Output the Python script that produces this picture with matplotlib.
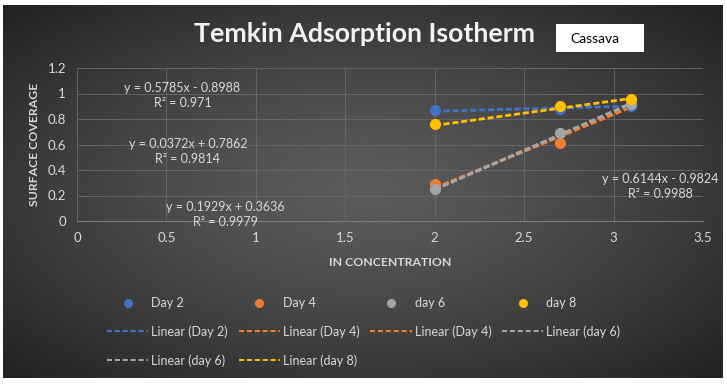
import numpy as np
import matplotlib
matplotlib.use('Agg')
import matplotlib.pyplot as plt
from matplotlib.lines import Line2D
from matplotlib.patches import Rectangle

plt.rcParams['font.family'] = ['Lato', 'DejaVu Sans']

# data
x_vals = [2.0, 2.7, 3.1]
series_names = ['Day 2', 'Day 4', 'day 6', 'day 8']
series_y = [
    [0.87, 0.88, 0.90],   # Day 2
    [0.29, 0.61, 0.93],   # Day 4
    [0.25, 0.69, 0.92],   # day 6
    [0.76, 0.90, 0.96],   # day 8
]
colors = ['#4472C4', '#ED7D31', '#A5A5A5', '#FFC000']

# trendlines as they appear in the legend (series index, slope, intercept)
trend_series = [0, 1, 1, 2, 2, 3]
trend_names = ['Linear (Day 2)', 'Linear (Day 4)', 'Linear (Day 4)',
               'Linear (day 6)', 'Linear (day 6)', 'Linear (day 8)']
trend_slope = [0.0372, 0.5785, 0.5785, 0.6144, 0.6144, 0.1929]
trend_icpt = [0.7862, -0.8988, -0.8988, -0.9824, -0.9824, 0.3636]

# equation labels shown on the chart
eq_text = ['y = 0.5785x - 0.8988\nR² = 0.971',
           'y = 0.0372x + 0.7862\nR² = 0.9814',
           'y = 0.1929x + 0.3636\nR² = 0.9979',
           'y = 0.6144x - 0.9824\nR² = 0.9988']
eq_pos = [(0.59, 0.985), (0.62, 0.545), (0.83, 0.05), (3.26, 0.27)]

txt_col = '#d9d9d9'

fig = plt.figure(figsize=(7.27, 3.84), dpi=100)
fig.patch.set_facecolor('white')

# radial gradient background
bg = fig.add_axes([3/727, 6/384, 720/727, 373/384], zorder=0)
gx, gy = np.meshgrid(np.linspace(-1, 1, 400), np.linspace(-1, 1, 220))
r = np.sqrt(gx**2 + gy**2) / np.sqrt(2)
shade = 0.36 - 0.23 * np.clip(r, 0, 1) ** 1.3
bg.imshow(np.dstack([shade, shade, shade]), aspect='auto', extent=[0, 1, 0, 1],
          interpolation='bicubic')
bg.set_axis_off()

ax = fig.add_axes([77/727, 1 - 221/384, 626/727, 153/384], zorder=1)
ax.patch.set_alpha(0)

xs = np.array([min(x_vals), max(x_vals)])
for k, si in enumerate(trend_series):
    ax.plot(xs, trend_slope[k] * xs + trend_icpt[k], color=colors[si],
            ls=(0, (2.2, 1.0)), lw=2, zorder=2)

for i, name in enumerate(series_names):
    ax.plot(x_vals, series_y[i], 'o', color=colors[i], ms=7, zorder=3)

for t, (px, py) in zip(eq_text, eq_pos):
    ax.text(px, py, t, color=txt_col, fontsize=9, ha='center', va='center',
            multialignment='center', linespacing=1.35, zorder=4, clip_on=False)

ax.set_xlim(0, 3.5)
ax.set_ylim(0, 1.2)
ax.set_xticks(np.arange(0, 3.51, 0.5))
ax.set_yticks(np.arange(0, 1.21, 0.2))
ax.set_xticklabels(['0', '0.5', '1', '1.5', '2', '2.5', '3', '3.5'])
ax.set_yticklabels(['0', '0.2', '0.4', '0.6', '0.8', '1', '1.2'])
ax.tick_params(colors=txt_col, labelsize=9.5, length=0, pad=8)
ax.grid(True, color='#6a6a6a', lw=0.6)
for s in ['top', 'right', 'left']:
    ax.spines[s].set_visible(False)
ax.spines['bottom'].set_color('#7a7a7a')

ax.set_xlabel('IN CONCENTRATION', color=txt_col, fontsize=8.8, fontweight='bold',
              labelpad=9)
ax.set_ylabel('SURFACE COVERAGE', color=txt_col, fontsize=8.8, fontweight='bold',
              labelpad=5)

fig.text(364/727, 1 - 34/384, 'Temkin Adsorption Isotherm', color='#f2f2f2',
         fontsize=19.3, fontweight='bold', ha='center', va='center', zorder=5)
fig.add_artist(Rectangle((556/727, 1 - 52/384), 88/727, 28/384,
                         transform=fig.transFigure, fc='white', ec='none',
                         zorder=5))
fig.text(595/727, 1 - 39/384, 'Cassava', color='black', fontsize=10,
         ha='center', va='center', zorder=6)

# legend, row-major order over 4 columns
h_pts = [Line2D([], [], ls='none', marker='o', ms=5.5, color=c) for c in colors]
h_tr = [Line2D([], [], ls=(0, (2.4, 1.4)), lw=1.5, color=colors[si])
        for si in trend_series]
handles = [h_pts[0], h_tr[0], h_tr[4], h_pts[1], h_tr[1], h_tr[5],
           h_pts[2], h_tr[2], h_pts[3], h_tr[3]]
labels = [series_names[0], trend_names[0], trend_names[4],
          series_names[1], trend_names[1], trend_names[5],
          series_names[2], trend_names[2], series_names[3], trend_names[3]]
leg = fig.legend(handles, labels, ncol=4, loc='upper left',
                 bbox_to_anchor=(107/727, 1 - 297/384), frameon=False,
                 borderaxespad=0, borderpad=0,
                 fontsize=9, labelcolor=txt_col, handlelength=3.3,
                 handletextpad=0.25, columnspacing=0.85, labelspacing=1.3)
leg.set_zorder(5)

fig.savefig('out.png', dpi=100, facecolor='white')
